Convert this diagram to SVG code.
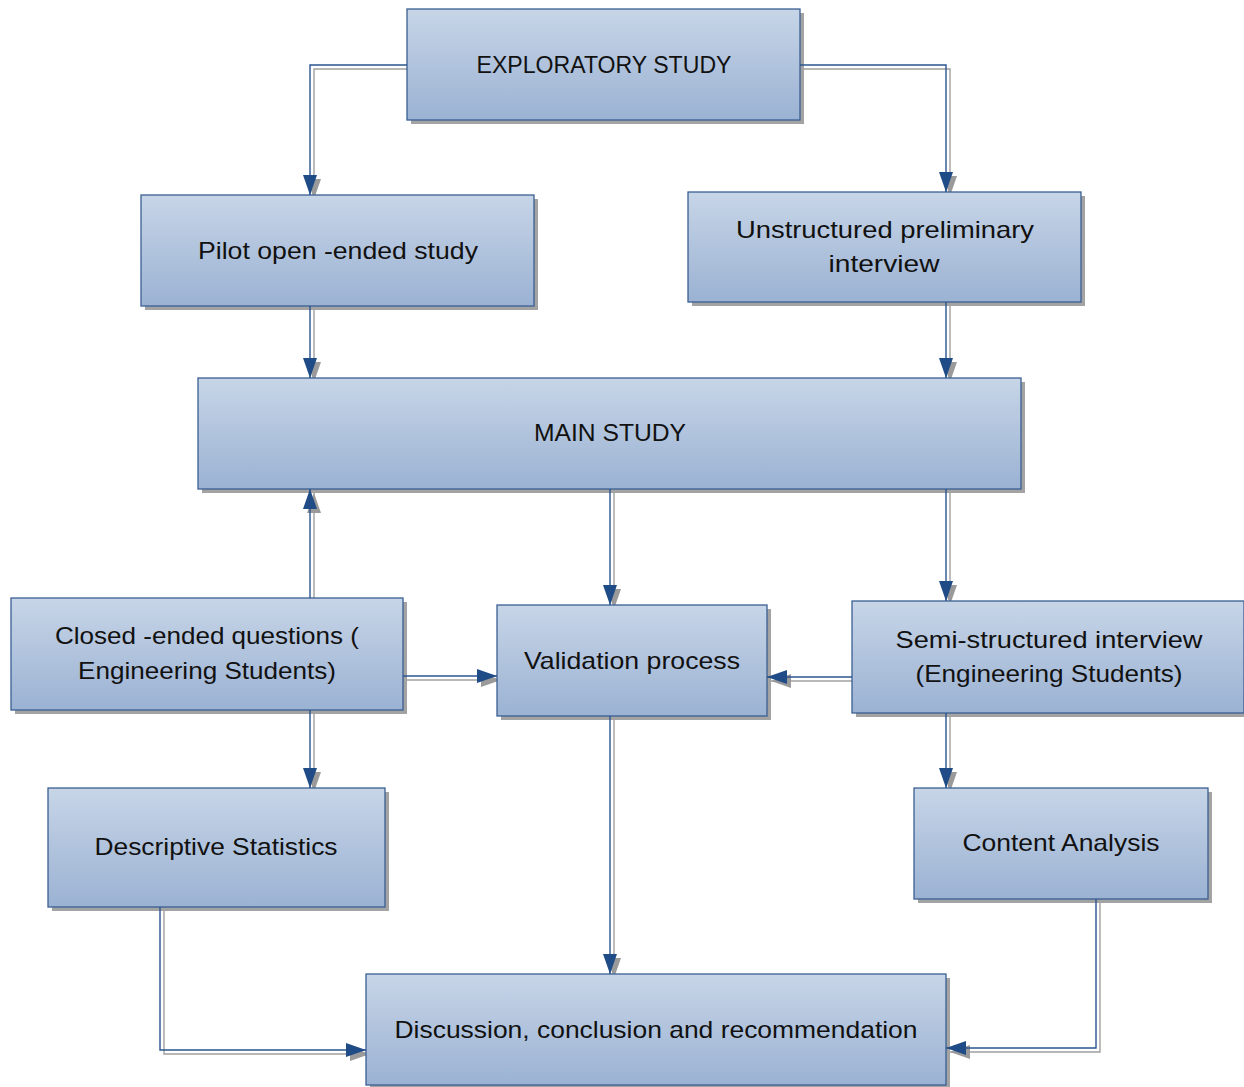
<svg xmlns="http://www.w3.org/2000/svg" width="1244" height="1087" viewBox="0 0 1244 1087">
<defs>
<linearGradient id="g" x1="0" y1="0" x2="0" y2="1">
<stop offset="0" stop-color="#c7d5e7"/>
<stop offset="1" stop-color="#9bb2d3"/>
</linearGradient>
<marker id="ab" viewBox="0 0 20 14" refX="20" refY="7" markerWidth="20" markerHeight="14" markerUnits="userSpaceOnUse" orient="auto">
<path d="M0,0 L20,7 L0,14 Z" fill="#1f4b86"/>
</marker>
<marker id="ag" viewBox="0 0 20 14" refX="20" refY="7" markerWidth="20" markerHeight="14" markerUnits="userSpaceOnUse" orient="auto">
<path d="M0,0 L20,7 L0,14 Z" fill="#9a9a9a"/>
</marker>
</defs>
<style>
.sh{fill:#a3a3a3}
.bx{fill:url(#g);stroke:#3a5f91;stroke-width:1.3}
.t{font-family:"Liberation Sans",Arial,sans-serif;font-size:24px;fill:#111;text-anchor:middle}
.c{fill:none;stroke:#2b5590;stroke-width:1.4;marker-end:url(#ab)}
.cs{fill:none;stroke:#a0a0a0;stroke-width:1.4;marker-end:url(#ag)}
</style>
<rect width="1244" height="1087" fill="#fff"/>

<g id="connectors-shadow" transform="translate(4,4)">
<path class="cs" d="M407,65 H310 V195"/>
<path class="cs" d="M800,65 H946 V192"/>
<path class="cs" d="M310,306 V378"/>
<path class="cs" d="M946,302 V378"/>
<path class="cs" d="M310,598 V489"/>
<path class="cs" d="M610,489 V605"/>
<path class="cs" d="M946,489 V601"/>
<path class="cs" d="M403,676 H497"/>
<path class="cs" d="M852,677 H767"/>
<path class="cs" d="M310,710 V788"/>
<path class="cs" d="M946,713 V788"/>
<path class="cs" d="M610,716 V974"/>
<path class="cs" d="M160,907 V1050 H366"/>
<path class="cs" d="M1096,899 V1048 H946"/>
</g>

<g id="n1"><rect class="sh" x="411" y="13" width="393" height="111"/><rect class="bx" x="407" y="9" width="393" height="111"/><text class="t" x="604" y="73" textLength="255" lengthAdjust="spacingAndGlyphs">EXPLORATORY STUDY</text></g>
<g id="n2"><rect class="sh" x="145" y="199" width="393" height="111"/><rect class="bx" x="141" y="195" width="393" height="111"/><text class="t" x="338" y="259" textLength="280" lengthAdjust="spacingAndGlyphs">Pilot open -ended study</text></g>
<g id="n3"><rect class="sh" x="692" y="196" width="393" height="110"/><rect class="bx" x="688" y="192" width="393" height="110"/><text class="t" x="885" y="238" textLength="298" lengthAdjust="spacingAndGlyphs">Unstructured preliminary</text><text class="t" x="884" y="272" textLength="111" lengthAdjust="spacingAndGlyphs">interview</text></g>
<g id="n4"><rect class="sh" x="202" y="382" width="823" height="111"/><rect class="bx" x="198" y="378" width="823" height="111"/><text class="t" x="610" y="441" textLength="152" lengthAdjust="spacingAndGlyphs">MAIN STUDY</text></g>
<g id="n5"><rect class="sh" x="15" y="602" width="392" height="112"/><rect class="bx" x="11" y="598" width="392" height="112"/><text class="t" x="207" y="644" textLength="304" lengthAdjust="spacingAndGlyphs">Closed -ended questions (</text><text class="t" x="207" y="679" textLength="258" lengthAdjust="spacingAndGlyphs">Engineering Students)</text></g>
<g id="n6"><rect class="sh" x="501" y="609" width="270" height="111"/><rect class="bx" x="497" y="605" width="270" height="111"/><text class="t" x="632" y="669" textLength="216" lengthAdjust="spacingAndGlyphs">Validation process</text></g>
<g id="n7"><rect class="sh" x="856" y="605" width="392" height="112"/><rect class="bx" x="852" y="601" width="392" height="112"/><text class="t" x="1049" y="648" textLength="307" lengthAdjust="spacingAndGlyphs">Semi-structured interview</text><text class="t" x="1049" y="682" textLength="267" lengthAdjust="spacingAndGlyphs">(Engineering Students)</text></g>
<g id="n8"><rect class="sh" x="52" y="792" width="337" height="119"/><rect class="bx" x="48" y="788" width="337" height="119"/><text class="t" x="216" y="855" textLength="243" lengthAdjust="spacingAndGlyphs">Descriptive Statistics</text></g>
<g id="n9"><rect class="sh" x="918" y="792" width="294" height="111"/><rect class="bx" x="914" y="788" width="294" height="111"/><text class="t" x="1061" y="851" textLength="197" lengthAdjust="spacingAndGlyphs">Content Analysis</text></g>
<g id="n10"><rect class="sh" x="370" y="978" width="580" height="111"/><rect class="bx" x="366" y="974" width="580" height="111"/><text class="t" x="656" y="1038" textLength="523" lengthAdjust="spacingAndGlyphs">Discussion, conclusion and recommendation</text></g>

<g id="connectors">
<path class="c" d="M407,65 H310 V195"/>
<path class="c" d="M800,65 H946 V192"/>
<path class="c" d="M310,306 V378"/>
<path class="c" d="M946,302 V378"/>
<path class="c" d="M310,598 V489"/>
<path class="c" d="M610,489 V605"/>
<path class="c" d="M946,489 V601"/>
<path class="c" d="M403,676 H497"/>
<path class="c" d="M852,677 H767"/>
<path class="c" d="M310,710 V788"/>
<path class="c" d="M946,713 V788"/>
<path class="c" d="M610,716 V974"/>
<path class="c" d="M160,907 V1050 H366"/>
<path class="c" d="M1096,899 V1048 H946"/>
</g>
</svg>
